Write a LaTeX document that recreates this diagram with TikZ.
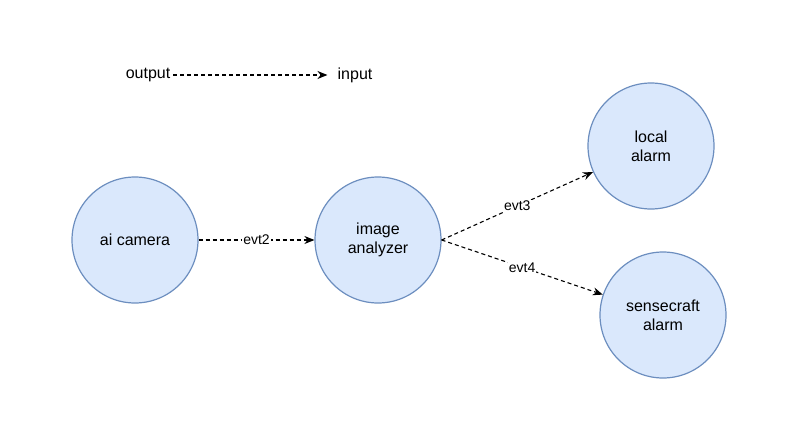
\documentclass[tikz,border=0pt]{standalone}
\usepackage{fontspec}
\setmainfont{Liberation Sans}
\usetikzlibrary{arrows.meta}
\definecolor{cfill}{HTML}{DAE8FC}
\definecolor{cdraw}{HTML}{6C8EBF}
\begin{document}
\begin{tikzpicture}[x=1pt,y=-1pt,
  st/.style={circle,draw=cdraw,fill=cfill,line width=1.2pt,minimum size=126pt,inner sep=0pt,align=center,font=\fontsize{16}{19}\selectfont},
  ed/.style={dashed,line width=1.1pt,-{Stealth[length=10pt,width=8pt]},dash pattern=on 4pt off 3pt},
  lb/.style={fill=white,inner sep=1pt,font=\fontsize{14}{16}\selectfont},
  tx/.style={font=\fontsize{16}{19}\selectfont,inner sep=0pt}]
\useasboundingbox (0,0) rectangle (800,447);
\node[st] (cam) at (135,240) {ai camera};
\node[st] (ana) at (378,240) {image\\analyzer};
\node[st] (loc) at (651,146) {local\\alarm};
\node[st] (sen) at (663,315) {sensecraft\\alarm};
\node[tx] (out) at (148,75) {output};
\node[tx] (in) at (355,75) {input};
\draw[ed] (out.east)++(3,0) coordinate (o1) (o1) -- ([xshift=-10pt]in.west);
\draw[ed] (cam) -- node[lb] {evt2} (ana);
\draw[ed] (ana.east) -- node[lb,pos=0.5] {evt3} (loc);
\draw[ed] (ana.east) -- node[lb,pos=0.5] {evt4} (sen);
\end{tikzpicture}
\end{document}
